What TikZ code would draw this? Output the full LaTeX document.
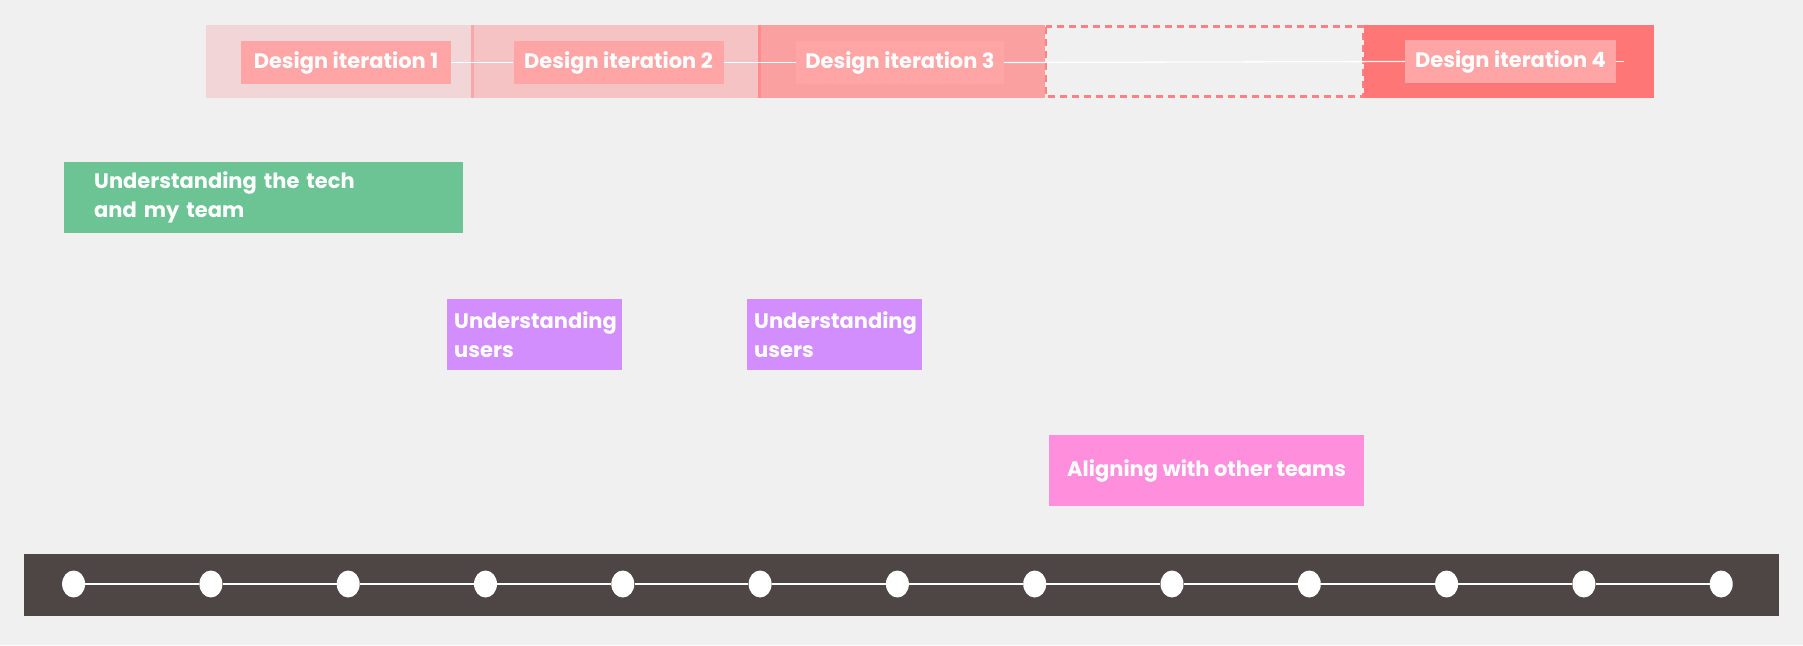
\documentclass[tikz,border=0pt]{standalone}
\usepackage{fontspec}
\setmainfont{Poppins}
\definecolor{bg}{HTML}{F0F0F0}
\definecolor{segA}{HTML}{F2D6D7}
\definecolor{segB}{HTML}{F5C3C4}
\definecolor{segC}{HTML}{FBA0A0}
\definecolor{segD}{HTML}{FF7676}
\definecolor{divA}{HTML}{F5A9AA}
\definecolor{divB}{HTML}{FF8C8C}
\definecolor{dashc}{HTML}{FF8080}
\definecolor{lblc}{HTML}{FFA5A5}
\definecolor{greenc}{HTML}{6CC494}
\definecolor{purplec}{HTML}{D38EFD}
\definecolor{pinkc}{HTML}{FF8EDC}
\definecolor{barc}{HTML}{4E4644}
\tikzset{
  txt/.style={text=white, font=\bfseries\fontsize{21}{29}\selectfont},
  lbl/.style={txt, fill=lblc, minimum width=210pt, minimum height=43pt, inner sep=0pt},
  card/.style={txt, minimum height=71pt, inner ysep=0pt, align=left},
  dot/.style={ellipse, fill=white, minimum width=23pt, minimum height=27pt, inner sep=0pt},
  tline/.style={white, line width=1.3pt},
}
\usetikzlibrary{shapes.geometric}
\begin{document}
\begin{tikzpicture}[x=1pt,y=-1pt]
\useasboundingbox (0,0) rectangle (1803,645);
\fill[bg] (0,0) rectangle (1803,645);
% top bar segments
\fill[segA] (206,25) rectangle (471,98);
\fill[segB] (471,25) rectangle (758,98);
\fill[segC] (758,25) rectangle (1045,98);
\fill[segD] (1364,25) rectangle (1654,98);
\draw[divA, line width=3pt] (472,25) -- (472,98);
\draw[divB, line width=3pt] (759,25) -- (759,98);
\draw[dashc, line width=2.5pt, dash pattern=on 7pt off 5pt] (1046,26.5) rectangle (1363,96.5);
% labels
\node[lbl] (d1) at (346,62.5) {Design iteration 1};
\node[lbl] (d2) at (618.5,62.5) {Design iteration 2};
\node[lbl, minimum width=208pt] (d3) at (900,62.5) {Design iteration 3};
\node[lbl, minimum width=211pt] (d4) at (1510.5,61.5) {Design iteration 4};
\coordinate (tail) at (1624,61.5);
\draw[tline] (d1.east) -- (d2.west);
\draw[tline] (d2.east) -- (d3.west);
\draw[tline] (d3.east) -- (d4.west);
\draw[tline] (d4.east) -- (tail);
% cards
\node[card, fill=greenc, anchor=north west, inner xsep=30pt, text width=339pt] (tech) at (64,162) {Understanding the tech\\and my team};
\node[card, fill=purplec, anchor=north west, inner xsep=7pt, text width=161pt] (u1) at (447,299) {Understanding\\users};
\node[card, fill=purplec, anchor=north west, inner xsep=7pt, text width=161pt] (u2) at (747,299) {Understanding\\users};
\node[card, fill=pinkc, anchor=north west, inner xsep=0pt, minimum width=315pt, align=center] (align) at (1049,435) {Aligning with other teams};
% bottom timeline
\fill[barc] (24,554) rectangle (1779,616);
\foreach \i in {0,...,12} {
  \node[dot] (t\i) at ({73.6+\i*137.3},584) {};
}
\foreach \i [evaluate=\i as \j using int(\i+1)] in {0,...,11} {
  \draw[tline] (t\i) -- (t\j);
}
\end{tikzpicture}
\end{document}
